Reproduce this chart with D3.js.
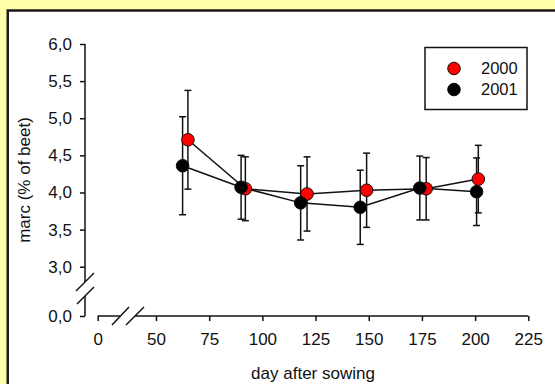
<!DOCTYPE html>
<html>
<head>
<meta charset="utf-8">
<script src="https://cdnjs.cloudflare.com/ajax/libs/d3/7.8.5/d3.min.js"></script>
<style>
    html, body { margin: 0; padding: 0; background: #ffffaa; }
    svg { display: block; }
    text { font-family: "Liberation Sans", Arial, sans-serif; fill: #111; }
</style>
</head>
<body>
<div id="marc-chart"></div>
<script>

//************************  data *************************

var years = ["2000", "2001"];

var days2000 = [65, 92, 121, 149, 177, 201.5];
var marc2000 = [4.71, 4.05, 3.98, 4.03, 4.05, 4.18];
var err2000  = [0.665, 0.43, 0.50, 0.50, 0.42, 0.455];

var days2001 = [62.5, 90, 118, 146, 174, 200.7];
var marc2001 = [4.36, 4.07, 3.86, 3.80, 4.06, 4.01];
var err2001  = [0.66, 0.43, 0.50, 0.50, 0.43, 0.455];

var xTicks = [0, 50, 75, 100, 125, 150, 175, 200, 225];
var yTicks = [0, 3, 3.5, 4, 4.5, 5, 5.5, 6];


//************************  chart *************************

var width = 555, height = 384;

var svg = d3.select("#marc-chart").append("svg")
    .attr("width", width)
    .attr("height", height);

// white panel with dark frame
svg.append("rect")
    .attr("x", 7.75)
    .attr("y", 10.5)
    .attr("width", 600)
    .attr("height", 400)
    .attr("fill", "white")
    .attr("stroke", "#1a1a1a")
    .attr("stroke-width", 2.5);

// broken scales: 0 sits before the break
var x = d3.scaleLinear()
    .domain([0, 50, 225])
    .range([97.7, 156, 528.3]);

var y = d3.scaleLinear()
    .domain([0, 3, 6])
    .range([316, 266.7, 44]);

var fmt = d3.formatLocale({decimal: ",", thousands: ".", grouping: [3], currency: ["", ""]}).format(".1f");

var xAxis = d3.axisBottom(x)
    .tickValues(xTicks)
    .tickSize(5)
    .tickPadding(12)
    .tickFormat(d3.format("d"));

var yAxis = d3.axisLeft(y)
    .tickValues(yTicks)
    .tickSize(5)
    .tickPadding(8)
    .tickFormat(fmt);

var gx = svg.append("g")
    .attr("class", "x-axis axis")
    .attr("transform", "translate(0," + y(0) + ")")
    .call(xAxis);

var gy = svg.append("g")
    .attr("class", "y-axis axis")
    .attr("transform", "translate(" + 85 + ",0)")
    .call(yAxis);

svg.selectAll(".axis .domain").remove();
svg.selectAll(".axis line").attr("stroke", "#111").attr("stroke-width", 1.5);
svg.selectAll(".axis text")
    .attr("font-size", 17)
    .attr("font-family", "'Liberation Sans', Arial, sans-serif")
    .attr("fill", "#111");

// axis lines with breaks
var axisLines = [
    [[85, y(6)], [85, 282]],
    [[85, 296], [85, y(0)]],
    [[x(0), y(0)], [120, y(0)]],
    [[135, y(0)], [x(225), y(0)]]
];
var breaks = [
    [[76, 291], [94, 273]],
    [[77, 304], [94, 287]],
    [[112, 325], [129, 307]],
    [[126, 325], [144, 307]]
];

svg.selectAll(".axisline")
    .data(axisLines.concat(breaks))
    .enter().append("line")
    .attr("class", "axisline")
    .attr("x1", function(d){ return d[0][0]; })
    .attr("y1", function(d){ return d[0][1]; })
    .attr("x2", function(d){ return d[1][0]; })
    .attr("y2", function(d){ return d[1][1]; })
    .attr("stroke", "#111")
    .attr("stroke-width", 1.5);

// axis titles
svg.append("text")
    .attr("x", (x(0) + x(225)) / 2)
    .attr("y", 379)
    .attr("text-anchor", "middle")
    .attr("font-size", 17)
    .text("day after sowing");

svg.append("text")
    .attr("transform", "translate(30," + ((y(0) + y(6)) / 2) + ") rotate(-90)")
    .attr("text-anchor", "middle")
    .attr("font-size", 17)
    .text("marc (% of beet)");

//************************  series *************************

var makeSeries = function(days, marc, err){
    return days.map(function(d, i){
        return {day: d, marc: marc[i], err: err[i]};
    });
}

var series = [
    {name: years[0], color: "#ff0000", data: makeSeries(days2000, marc2000, err2000)},
    {name: years[1], color: "#000000", data: makeSeries(days2001, marc2001, err2001)}
];

var plot = svg.append("g").attr("class", "plot");

// error bars first
series.forEach(function(s){
    var bars = plot.append("g").attr("class", "errbars");
    bars.selectAll(".ebar")
        .data(s.data)
        .enter().append("line")
        .attr("x1", function(d){ return x(d.day); })
        .attr("x2", function(d){ return x(d.day); })
        .attr("y1", function(d){ return y(d.marc + d.err); })
        .attr("y2", function(d){ return y(d.marc - d.err); })
        .attr("stroke", "#111")
        .attr("stroke-width", 1.5);
    [1, -1].forEach(function(sign){
        bars.selectAll(".cap" + sign)
            .data(s.data)
            .enter().append("line")
            .attr("x1", function(d){ return x(d.day) - 3.5; })
            .attr("x2", function(d){ return x(d.day) + 3.5; })
            .attr("y1", function(d){ return y(d.marc + sign * d.err); })
            .attr("y2", function(d){ return y(d.marc + sign * d.err); })
            .attr("stroke", "#111")
            .attr("stroke-width", 1.5);
    });
});

// connecting lines
var line = d3.line()
    .x(function(d){ return x(d.day); })
    .y(function(d){ return y(d.marc); });

series.forEach(function(s){
    plot.append("path")
        .datum(s.data)
        .attr("d", line)
        .attr("fill", "none")
        .attr("stroke", "#111")
        .attr("stroke-width", 1.5);
});

// symbols
series.forEach(function(s){
    plot.append("g").selectAll("circle")
        .data(s.data)
        .enter().append("circle")
        .attr("cx", function(d){ return x(d.day); })
        .attr("cy", function(d){ return y(d.marc); })
        .attr("r", 6.3)
        .attr("fill", s.color)
        .attr("stroke", "#111")
        .attr("stroke-width", 1);
});

//************************  legend *************************

var legend = svg.append("g").attr("class", "legend");

legend.append("rect")
    .attr("x", 425)
    .attr("y", 47.5)
    .attr("width", 102)
    .attr("height", 62)
    .attr("fill", "white")
    .attr("stroke", "#111")
    .attr("stroke-width", 1.5);

var items = legend.selectAll(".item")
    .data(series)
    .enter().append("g")
    .attr("class", "item")
    .attr("transform", function(d, i){ return "translate(454," + (68.5 + i * 21) + ")"; });

items.append("circle")
    .attr("r", 6.3)
    .attr("fill", function(d){ return d.color; })
    .attr("stroke", "#111")
    .attr("stroke-width", 1);

items.append("text")
    .attr("x", 27)
    .attr("dy", "0.35em")
    .attr("font-size", 16.5)
    .text(function(d){ return d.name; });

</script>
</body>
</html>
